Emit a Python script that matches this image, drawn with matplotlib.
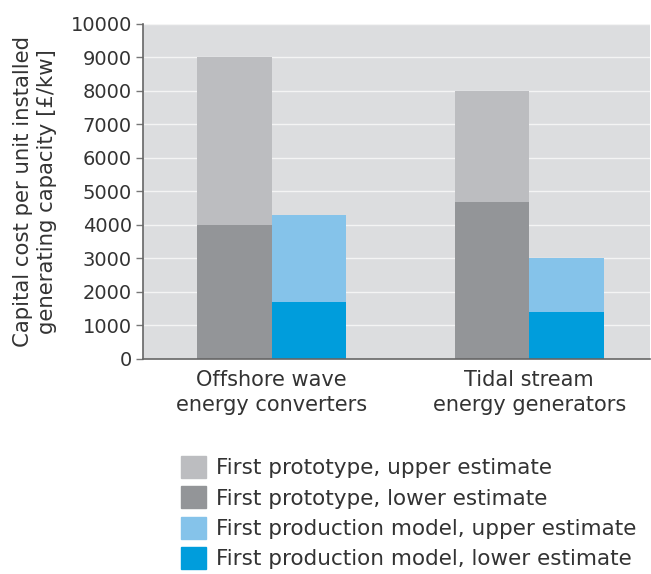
import numpy as np
import matplotlib.pyplot as plt
from matplotlib.patches import Patch

# === DATA ===
categories = ["Offshore wave\nenergy converters", "Tidal stream\nenergy generators"]
proto_upper = [9000, 8000]
proto_lower = [4000, 4700]
prod_upper = [4300, 3000]
prod_lower = [1700, 1400]
series_names = [
    "First prototype, upper estimate",
    "First prototype, lower estimate",
    "First production model, upper estimate",
    "First production model, lower estimate",
]
y_ticks = [0, 1000, 2000, 3000, 4000, 5000, 6000, 7000, 8000, 9000, 10000]

# === STYLE ===
plt.rcParams['font.family'] = ['DejaVu Sans']
c_pu, c_pl = '#bcbdc0', '#939598'
c_mu, c_ml = '#85c3ea', '#009ddc'
text_col = '#333333'

fig = plt.figure(figsize=(6.51, 5.74), dpi=100)
ax = fig.add_axes([0.2197, 0.3746, 0.779, 0.5836])
ax.set_facecolor('#dcdddf')

x = np.arange(len(categories))
w = 0.29
# upper estimates drawn full height, lower estimates laid over them
ax.bar(x - w / 2, proto_upper, w, color=c_pu, zorder=2)
ax.bar(x - w / 2, proto_lower, w, color=c_pl, zorder=3)
ax.bar(x + w / 2, prod_upper, w, color=c_mu, zorder=2)
ax.bar(x + w / 2, prod_lower, w, color=c_ml, zorder=3)

ax.set_xlim(-0.5, 1.47)
ax.set_ylim(0, 10000)
ax.set_yticks(y_ticks)
ax.set_yticklabels([str(v) for v in y_ticks], fontsize=14, color=text_col)
ax.set_xticks(x)
ax.set_xticklabels(categories, fontsize=15, color=text_col, linespacing=1.3)
ax.tick_params(axis='x', length=0, pad=8)
ax.tick_params(axis='y', length=5, width=1, color='#777777', pad=3)
ax.grid(axis='y', color='#f4f4f4', linewidth=1.0, zorder=1)
ax.set_axisbelow(True)
for s in ['top', 'right']:
    ax.spines[s].set_visible(False)
for s in ['left', 'bottom']:
    ax.spines[s].set_color('#666666')
    ax.spines[s].set_linewidth(1.2)
    ax.spines[s].set_zorder(4)

ax.set_ylabel("Capital cost per unit installed\ngenerating capacity [£/kw]",
              fontsize=15.3, color=text_col, linespacing=1.25, labelpad=10)

handles = [Patch(color=c) for c in [c_pu, c_pl, c_mu, c_ml]]
fig.legend(handles, series_names, loc='upper left', bbox_to_anchor=(0.278, 0.206),
           frameon=False, fontsize=15.5, handlelength=1.15, handleheight=1.2,
           handletextpad=0.5, labelspacing=0.38, borderaxespad=0, borderpad=0,
           labelcolor=text_col)

fig.savefig('out.png', dpi=100)
